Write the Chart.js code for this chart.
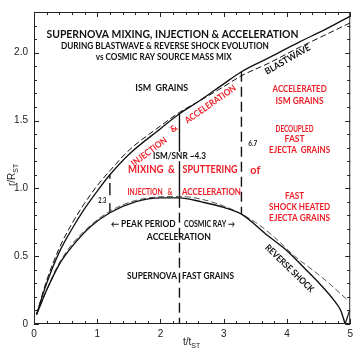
<!DOCTYPE html>
<html>
<head>
<meta charset="utf-8">
<script src="https://cdn.jsdelivr.net/npm/chart.js@4/dist/chart.umd.min.js"></script>
<style>
html, body { margin: 0; padding: 0; background: #fff; }
#wrap { width: 357px; height: 348px; }
</style>
</head>
<body>
<div id="wrap"><canvas id="chart"></canvas></div>
<script>
// t/t_ST and r/R_ST
const blastT = [0.04, 0.2, 0.4, 0.6, 0.8, 1.0, 1.2, 1.5, 2.0, 2.3, 2.6, 3.0, 3.28, 3.7, 4.2, 4.6, 5.0];
const blastR = [0.07, 0.30, 0.53, 0.70, 0.85, 0.98, 1.10, 1.25, 1.44, 1.55, 1.64, 1.77, 1.86, 1.96, 2.08, 2.17, 2.27];
const blastDashR = [0.07, 0.32, 0.56, 0.74, 0.89, 1.02, 1.13, 1.28, 1.46, 1.56, 1.64, 1.75, 1.83, 1.92, 2.04, 2.13, 2.22];

const revT = [0.04, 0.2, 0.4, 0.6, 0.9, 1.2, 1.6, 2.0, 2.3, 2.65, 3.0, 3.28, 3.7, 4.0, 4.3, 4.53, 4.75, 4.85, 4.92];
const revR = [0.07, 0.25, 0.44, 0.57, 0.72, 0.82, 0.90, 0.93, 0.93, 0.90, 0.86, 0.81, 0.65, 0.54, 0.40, 0.29, 0.17, 0.10, 0.0];
const tailT = [4.92, 4.99];
const tailR = [0.0, 0.10];

const revDashT = [0.04, 0.4, 0.9, 1.6, 2.3, 3.0, 3.5, 3.8, 4.12, 4.4, 4.64, 4.95];
const revDashR = [0.07, 0.45, 0.73, 0.91, 0.94, 0.87, 0.75, 0.64, 0.50, 0.40, 0.31, 0.18];

// vertical markers: [t, rFrom, rTo]
const solidMarks = [[1.2, 1.10, 1.07], [1.2, 1.04, 0.95], [1.2, 0.89, 0.82], [2.3, 1.55, 1.27], [2.3, 1.20, 0.93]];
const dashMarks = [[2.3, 0.93, 0.0], [3.28, 1.86, 0.81]];

const xTicks = [0, 1, 2, 3, 4, 5];
const yTicks = [0, 0.5, 1, 1.5, 2];

const RED = '#ee1c25';
const INK = '#111';

function pts(ts, rs) {
    return ts.map((t, i) => ({ x: t, y: rs[i] }));
}

function marks(list) {
    const out = [];
    list.forEach(m => {
        out.push({ x: m[0], y: m[1] }, { x: m[0], y: m[2] }, { x: m[0], y: null });
    });
    return out;
}

// text notes: text, t, r, size, color, align, rotation, width
const notes = [
    ['SUPERNOVA MIXING, INJECTION & ACCELERATION', 2.19, 2.135, 11, INK, 'center', 0, 252],
    ['DURING BLASTWAVE & REVERSE SHOCK EVOLUTION', 2.07, 2.05, 9, INK, 'center', 0, 208],
    ['vs COSMIC RAY SOURCE MASS MIX', 2.05, 1.97, 9, INK, 'center', 0, 136],
    ['ISM  GRAINS', 2.02, 1.74, 9, INK, 'center', 0, 53],
    ['BLASTWAVE', 4.01, 1.95, 9, INK, 'center', -30, 51],
    ['ACCELERATED', 4.20, 1.73, 9, RED, 'center', 0, 54],
    ['ISM GRAINS', 4.20, 1.64, 9, RED, 'center', 0, 48],
    ['DECOUPLED', 4.12, 1.44, 9, RED, 'center', 0, 38],
    ['FAST', 4.12, 1.36, 9, RED, 'center', 0, 20],
    ['EJECTA  GRAINS', 4.20, 1.28, 9, RED, 'center', 0, 61],
    ['of', 3.50, 1.13, 10.5, RED, 'center', 0, 10],
    ['FAST', 4.12, 0.94, 9, RED, 'center', 0, 19],
    ['SHOCK HEATED', 4.20, 0.86, 9, RED, 'center', 0, 61],
    ['EJECTA GRAINS', 4.20, 0.78, 9, RED, 'center', 0, 61],
    ['ISM/SNR ~4.3', 2.30, 1.24, 9, INK, 'center', 0, 53],
    ['MIXING  &', 2.23, 1.14, 10.5, RED, 'right', 0, 47],
    ['SPUTTERING', 2.35, 1.14, 10.5, RED, 'left', 0, 55],
    ['INJECTION   &', 2.19, 0.97, 9, RED, 'right', 0, 45],
    ['ACCELERATION', 2.34, 0.97, 9, RED, 'left', 0, 59],
    ['INJECTION', 1.82, 1.27, 9, RED, 'center', -37, 42],
    ['&', 2.21, 1.44, 9, RED, 'center', -37, 7],
    ['ACCELERATION', 2.79, 1.62, 9, RED, 'center', -35, 60],
    ['\u2190 PEAK PERIOD', 2.24, 0.74, 9, INK, 'right', 0, 65],
    ['COSMIC RAY \u2192', 2.37, 0.74, 9, INK, 'left', 0, 51],
    ['ACCELERATION', 2.29, 0.64, 9, INK, 'center', 0, 64],
    ['SUPERNOVA', 2.26, 0.35, 9, INK, 'right', 0, 50],
    ['FAST GRAINS', 2.34, 0.35, 9, INK, 'left', 0, 52],
    ['REVERSE SHOCK', 4.04, 0.41, 9, INK, 'center', 44, 64],
    ['2.3', 1.08, 0.91, 7, INK, 'center', 0, 8],
    ['6.7', 3.46, 1.33, 7, INK, 'center', 0, 9]
];

function drawNote(ctx, n, x, y) {
    const [text, , , size, color, align, rot, w] = n;
    ctx.save();
    ctx.translate(x, y);
    if (rot) ctx.rotate(rot * Math.PI / 180);
    ctx.font = 'bold ' + size + 'px Lato, "Open Sans", sans-serif';
    ctx.fillStyle = color;
    ctx.textAlign = align;
    ctx.textBaseline = 'middle';
    if (w) {
        const m = ctx.measureText(text).width;
        ctx.scale(w / m, 1);
    }
    ctx.fillText(text, 0, 0);
    ctx.restore();
}

const framePlugin = {
    id: 'frame',
    afterDatasetsDraw(chart) {
        const { ctx, chartArea: a, scales: { x, y } } = chart;
        ctx.save();
        ctx.strokeStyle = '#222';
        ctx.lineWidth = 1;
        ctx.strokeRect(a.left + 0.5, a.top + 0.5, a.right - a.left - 1, a.bottom - a.top - 1);

        // inward ticks on all four sides
        ctx.beginPath();
        for (let i = 0; i <= 25; i++) {
            const v = i * 0.2;
            const px = Math.round(x.getPixelForValue(v)) + 0.5;
            const len = i % 5 === 0 ? 5 : 3;
            ctx.moveTo(px, a.bottom); ctx.lineTo(px, a.bottom - len);
            ctx.moveTo(px, a.top); ctx.lineTo(px, a.top + len);
        }
        for (let i = 0; i <= 23; i++) {
            const v = i * 0.1;
            const py = Math.round(y.getPixelForValue(v)) + 0.5;
            const len = i % 5 === 0 ? 5 : 3;
            ctx.moveTo(a.left, py); ctx.lineTo(a.left + len, py);
            ctx.moveTo(a.right, py); ctx.lineTo(a.right - len, py);
        }
        ctx.stroke();

        notes.forEach(n => {
            drawNote(ctx, n, x.getPixelForValue(n[1]), y.getPixelForValue(n[2]));
        });

        // axis titles
        ctx.fillStyle = '#222';
        ctx.font = '10px "Liberation Sans", Arial, sans-serif';
        ctx.textBaseline = 'alphabetic';
        ctx.textAlign = 'left';
        const xt = 183, yt = 345;
        ctx.fillText('t/t', xt, yt);
        let w = ctx.measureText('t/t').width;
        ctx.font = '7px "Liberation Sans", Arial, sans-serif';
        ctx.fillText('ST', xt + w, yt + 3);

        ctx.save();
        ctx.translate(15, 186);
        ctx.rotate(-Math.PI / 2);
        ctx.font = '10px "Liberation Sans", Arial, sans-serif';
        ctx.fillText('r/R', 0, 0);
        w = ctx.measureText('r/R').width;
        ctx.font = '7px "Liberation Sans", Arial, sans-serif';
        ctx.fillText('ST', w, 3);
        ctx.restore();

        ctx.restore();
    }
};

const lineBase = { pointRadius: 0, fill: false, borderColor: INK, spanGaps: false };

const datasets = [
    Object.assign({}, lineBase, { data: pts(blastT, blastR), borderWidth: 1.3, cubicInterpolationMode: 'monotone' }),
    Object.assign({}, lineBase, { data: pts(blastT, blastDashR), borderWidth: 1, borderDash: [6, 3], cubicInterpolationMode: 'monotone' }),
    Object.assign({}, lineBase, { data: pts(revT, revR), borderWidth: 1.4, cubicInterpolationMode: 'monotone' }),
    Object.assign({}, lineBase, { data: pts(tailT, tailR), borderWidth: 1.2 }),
    Object.assign({}, lineBase, { data: pts(revDashT, revDashR), borderWidth: 1, borderDash: [6, 3], borderColor: '#555', cubicInterpolationMode: 'monotone' }),
    Object.assign({}, lineBase, { data: marks(solidMarks), borderWidth: 1.4 }),
    Object.assign({}, lineBase, { data: marks(dashMarks), borderWidth: 1.4, borderDash: [10, 5] })
];

const tickFont = { family: '"Liberation Sans", Arial, sans-serif', size: 10 };

new Chart(document.getElementById('chart'), {
    type: 'line',
    data: { datasets: datasets },
    options: {
        responsive: true,
        maintainAspectRatio: false,
        animation: false,
        layout: { padding: { top: 1, right: 4, left: 0, bottom: 0 } },
        plugins: {
            legend: { display: false },
            tooltip: { enabled: false }
        },
        scales: {
            x: {
                type: 'linear',
                min: 0,
                max: 5,
                grid: { display: false, drawTicks: false },
                border: { display: false },
                ticks: { font: tickFont, color: '#222', padding: 4, maxRotation: 0 },
                afterBuildTicks: s => { s.ticks = xTicks.map(v => ({ value: v })); },
                afterFit: s => { s.height = 24; }
            },
            y: {
                type: 'linear',
                min: 0,
                max: 2.3,
                grid: { display: false, drawTicks: false },
                border: { display: false },
                ticks: { font: tickFont, color: '#222', padding: 6 },
                afterBuildTicks: s => { s.ticks = yTicks.map(v => ({ value: v })); },
                afterFit: s => { s.width = 34; }
            }
        }
    },
    plugins: [framePlugin]
});
</script>
</body>
</html>
